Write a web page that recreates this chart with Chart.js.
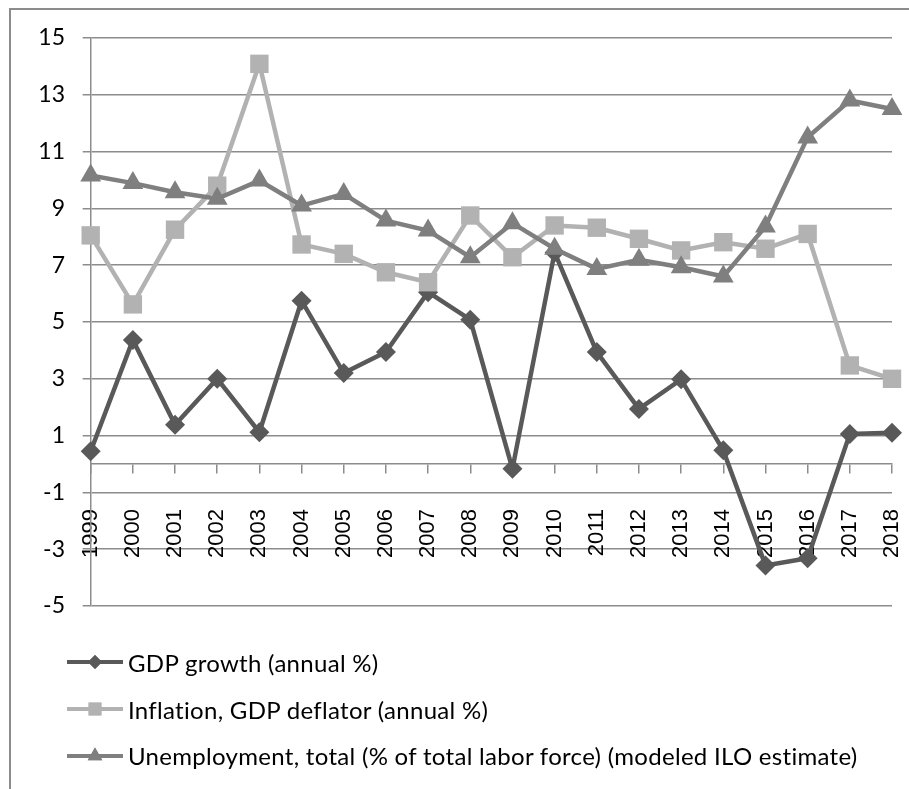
<!DOCTYPE html>
<html>
<head>
<meta charset="utf-8">
<script src="https://cdn.jsdelivr.net/npm/chart.js@4.4.1/dist/chart.umd.min.js"></script>
<style>
    html, body { margin: 0; padding: 0; background: #fff; overflow: hidden; }
    body { width: 909px; height: 789px; position: relative; }
    .frame { position: absolute; left: 9px; top: 8px; width: 2000px; height: 2000px; border: 2px solid #8c8c8c; }
    #chart { position: absolute; left: 0; top: 0; }
    .legend { position: absolute; left: 67px; top: 639px; font-family: Lato, sans-serif; font-size: 24px; letter-spacing: 0.3px; color: #000; }
    .legend-item { display: flex; align-items: center; height: 46.7px; white-space: nowrap; }
    .legend-item canvas { margin-right: 5px; }
</style>
</head>
<body>
<div class="frame"></div>
<canvas id="chart" width="909" height="789"></canvas>
<div class="legend" id="legend"></div>
<script>
// Data
const years = ['1999', '2000', '2001', '2002', '2003', '2004', '2005', '2006', '2007', '2008',
               '2009', '2010', '2011', '2012', '2013', '2014', '2015', '2016', '2017', '2018'];
const gdpGrowth = [0.45, 4.37, 1.38, 3.0, 1.12, 5.75, 3.2, 3.94, 6.05, 5.08,
                   -0.17, 7.45, 3.94, 1.94, 2.98, 0.48, -3.57, -3.32, 1.06, 1.1];
const inflation = [8.05, 5.62, 8.25, 9.8, 14.09, 7.73, 7.4, 6.75, 6.4, 8.75,
                   7.28, 8.4, 8.32, 7.93, 7.52, 7.81, 7.58, 8.1, 3.47, 3.0];
const unemployment = [10.16, 9.89, 9.57, 9.34, 9.98, 9.1, 9.51, 8.57, 8.22, 7.28,
                      8.48, 7.58, 6.87, 7.19, 6.93, 6.6, 8.36, 11.5, 12.8, 12.5];
const yTicks = { min: -5, max: 15, step: 2 };

const gridColor = '#8c8c8c';

const series = [
    { label: 'GDP growth (annual %)', data: gdpGrowth, color: '#595959', style: 'rectRot', radius: 10, order: 2 },
    { label: 'Inflation, GDP deflator (annual %)', data: inflation, color: '#b2b2b2', style: 'rect', radius: 13, order: 1 },
    { label: 'Unemployment, total (% of total labor force) (modeled ILO estimate)', data: unemployment, color: '#7f7f7f', style: 'triangle', radius: 12, order: 0 }
];

const chart = new Chart(document.getElementById('chart'), {
    type: 'line',
    data: {
        labels: years,
        datasets: series.map(s => ({
            label: s.label,
            data: s.data,
            borderColor: s.color,
            backgroundColor: s.color,
            borderWidth: 4.5,
            pointStyle: s.style,
            pointRadius: s.radius,
            pointHoverRadius: s.radius,
            pointBackgroundColor: s.color,
            pointBorderColor: s.color,
            pointBorderWidth: 0,
            tension: 0,
            clip: false,
            order: s.order
        }))
    },
    options: {
        responsive: false,
        animation: false,
        layout: {
            padding: { left: 0, top: 38, right: 17, bottom: 183 }
        },
        plugins: {
            legend: { display: false },
            tooltip: { enabled: false }
        },
        scales: {
            x: {
                type: 'category',
                offset: false,
                position: { y: 0 },
                afterFit: scale => { scale.paddingLeft = 0; scale.paddingRight = 0; },
                grid: {
                    drawOnChartArea: false,
                    drawTicks: true,
                    tickLength: 9,
                    color: gridColor,
                    lineWidth: 1.5
                },
                border: { display: true, color: gridColor, width: 1.5 },
                ticks: {
                    autoSkip: false,
                    minRotation: 90,
                    maxRotation: 90,
                    padding: 36,
                    color: '#000',
                    font: { family: '"Liberation Sans", Arial, sans-serif', size: 22 }
                }
            },
            y: {
                min: yTicks.min,
                max: yTicks.max,
                afterFit: scale => { scale.width = 90.7; },
                grid: {
                    color: gridColor,
                    lineWidth: 1.5,
                    tickLength: 8
                },
                border: { display: true, color: gridColor, width: 1.5 },
                ticks: {
                    stepSize: yTicks.step,
                    padding: 17.7,
                    color: '#000',
                    font: { family: 'Lato, sans-serif', size: 23 }
                }
            }
        }
    }
});

// Legend: line with marker, built from the chart's datasets
const legendEl = document.getElementById('legend');
chart.data.datasets.forEach(ds => {
    const item = document.createElement('div');
    item.className = 'legend-item';
    const sw = document.createElement('canvas');
    sw.width = 56;
    sw.height = 24;
    const ctx = sw.getContext('2d');
    ctx.strokeStyle = ds.borderColor;
    ctx.lineWidth = 4;
    ctx.beginPath();
    ctx.moveTo(0, 12);
    ctx.lineTo(56, 12);
    ctx.stroke();
    ctx.fillStyle = ds.pointBackgroundColor;
    Chart.helpers.drawPoint(ctx, { pointStyle: ds.pointStyle, radius: ds.pointRadius * 0.7, borderWidth: 0 }, 28, 12);
    ctx.fill();
    const txt = document.createElement('span');
    txt.textContent = ds.label;
    item.appendChild(sw);
    item.appendChild(txt);
    legendEl.appendChild(item);
});
</script>
</body>
</html>
